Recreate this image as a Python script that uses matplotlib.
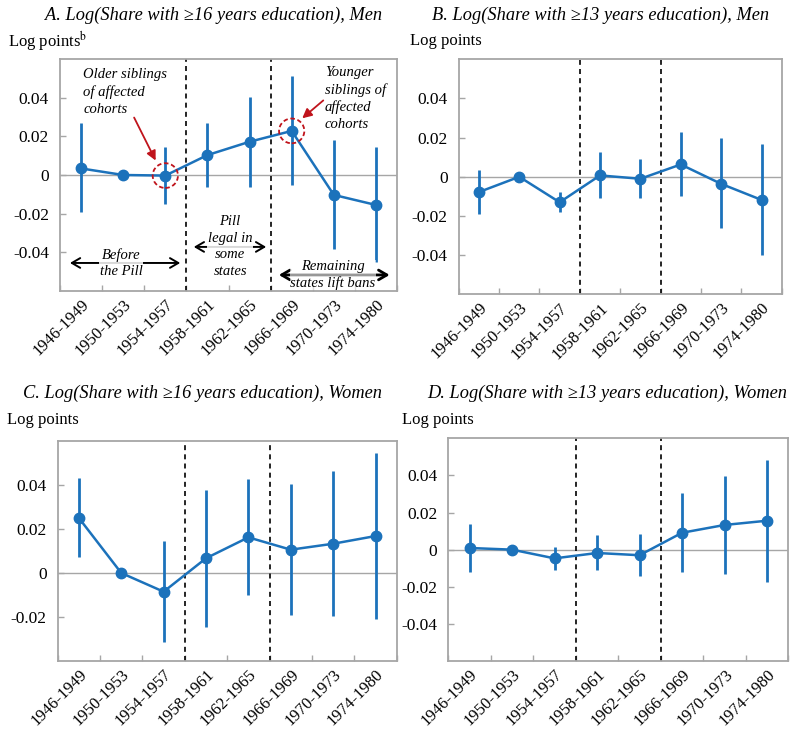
import numpy as np
import matplotlib
matplotlib.use("Agg")
import matplotlib.pyplot as plt
from matplotlib.patches import Ellipse
from matplotlib.ticker import FixedLocator, FixedFormatter

plt.rcParams['font.family'] = ['Liberation Serif', 'DejaVu Serif']
plt.rcParams['mathtext.fontset'] = 'stix'

cohorts = ["1946-1949", "1950-1953", "1954-1957", "1958-1961",
           "1962-1965", "1966-1969", "1970-1973", "1974-1980"]

# Panel A: share with >=16 years education, men
a_est = [0.0034, 0.0, -0.0003, 0.0103, 0.0172, 0.0228, -0.0103, -0.0155]
a_lo = [-0.0193, np.nan, -0.0150, -0.0064, -0.0060, -0.0052, -0.0383, -0.0448]
a_hi = [0.0270, np.nan, 0.0147, 0.0267, 0.0405, 0.0512, 0.0181, 0.0147]

# Panel B: share with >=13 years education, men
b_est = [-0.0078, 0.0, -0.0130, 0.0007, -0.0010, 0.0063, -0.0036, -0.0118]
b_lo = [-0.0190, np.nan, -0.0180, -0.0110, -0.0110, -0.0100, -0.0260, -0.0400]
b_hi = [0.0036, np.nan, -0.0080, 0.0125, 0.0090, 0.0230, 0.0200, 0.0168]

# Panel C: share with >=16 years education, women
c_est = [0.0250, 0.0, -0.0085, 0.0067, 0.0162, 0.0106, 0.0133, 0.0168]
c_lo = [0.0071, np.nan, -0.0312, -0.0244, -0.0100, -0.0189, -0.0195, -0.0211]
c_hi = [0.0430, np.nan, 0.0147, 0.0379, 0.0426, 0.0403, 0.0464, 0.0547]

# Panel D: share with >=13 years education, women
d_est = [0.0009, 0.0, -0.0047, -0.0018, -0.0030, 0.0091, 0.0133, 0.0156]
d_lo = [-0.0122, np.nan, -0.0111, -0.0111, -0.0142, -0.0122, -0.0129, -0.0172]
d_hi = [0.0140, np.nan, 0.0016, 0.0081, 0.0084, 0.0307, 0.0398, 0.0484]

titles = ["A. Log(Share with \u226516 years education), Men",
          "B. Log(Share with \u226513 years education), Men",
          "C. Log(Share with \u226516 years education), Women",
          "D. Log(Share with \u226513 years education), Women"]
ylabels = ["Log points$^{\\mathrm{b}}$", "Log points", "Log points", "Log points"]
ylims = [(-0.06, 0.06), (-0.06, 0.06), (-0.04, 0.06), (-0.06, 0.06)]
yticks_list = [[-0.04, -0.02, 0, 0.02, 0.04], [-0.04, -0.02, 0, 0.02, 0.04],
               [-0.02, 0, 0.02, 0.04], [-0.04, -0.02, 0, 0.02, 0.04]]
ytick_labels = {-0.04: "-0.04", -0.02: "-0.02", 0: "0", 0.02: "0.02", 0.04: "0.04"}

BLUE = "#1c72bb"
GRAY = "#a6a6a6"
RED = "#c0141c"

fig = plt.figure(figsize=(8, 7.39), dpi=100)
W, H = 800, 739

def px_axes(l, t, r, b):
    return fig.add_axes([l / W, 1 - b / H, (r - l) / W, (b - t) / H])

boxes = [(60, 59, 397, 291), (458.7, 59.3, 781.7, 294.3),
         (57.7, 441, 396.7, 661), (448.3, 438.3, 788.3, 661)]
title_pos = [(214, 15), (601, 15), (203, 393), (607, 393)]
ylabel_pos = [(8, 41), (410, 41), (7, 420), (402, 420)]
data = [(a_est, a_lo, a_hi), (b_est, b_lo, b_hi), (c_est, c_lo, c_hi), (d_est, d_lo, d_hi)]

axes = []
for i in range(4):
    ax = px_axes(*boxes[i])
    axes.append(ax)
    est, lo, hi = data[i]
    x = np.arange(len(cohorts)) + 0.5
    ax.set_xlim(0, len(cohorts))
    ax.set_ylim(*ylims[i])
    ax.axhline(0, color=GRAY, lw=1.0, zorder=1)
    for xv in (3, 5):
        ax.axvline(xv, color="black", lw=1.2, ls=(0, (3, 2.5)), zorder=2)
    ax.vlines(x, np.array(lo, float), np.array(hi, float), color=BLUE, lw=2.0, zorder=3)
    ax.plot(x, est, color=BLUE, lw=1.8, marker="o", ms=7.5, zorder=4)
    for s in ax.spines.values():
        s.set_color(GRAY)
        s.set_linewidth(1.3)
    ax.xaxis.set_major_locator(FixedLocator(np.arange(0, len(cohorts) + 1)))
    ax.xaxis.set_major_formatter(FixedFormatter([""] * (len(cohorts) + 1)))
    ax.xaxis.set_minor_locator(FixedLocator(x))
    ax.xaxis.set_minor_formatter(FixedFormatter(cohorts))
    ax.tick_params(axis="x", which="major", direction="in", length=4, color=GRAY, width=1)
    ax.tick_params(axis="x", which="minor", length=0, pad=4, labelsize=12)
    for lab in ax.get_xticklabels(minor=True):
        lab.set_rotation(45)
        lab.set_ha("right")
        lab.set_va("top")
        lab.set_rotation_mode("anchor")
    yt = yticks_list[i]
    ax.yaxis.set_major_locator(FixedLocator(yt))
    ax.yaxis.set_major_formatter(FixedFormatter([ytick_labels[v] for v in yt]))
    ax.tick_params(axis="y", direction="in", length=4, color=GRAY, width=1, labelsize=12.5, pad=8)
    fig.text(title_pos[i][0] / W, 1 - title_pos[i][1] / H, titles[i], ha="center", va="center",
             fontsize=13.2, style="italic")
    fig.text(ylabel_pos[i][0] / W, 1 - ylabel_pos[i][1] / H, ylabels[i], ha="left", va="center",
             fontsize=12)

# Annotations in panel A
ax = axes[0]
ax.text(0.55, 0.0429, "Older siblings\nof affected\ncohorts", ha="left", va="center",
        fontsize=10.5, style="italic", linespacing=1.4)
ax.annotate("", xy=(2.30, 0.0062), xytext=(1.73, 0.031),
            arrowprops=dict(arrowstyle="-|>", color=RED, lw=1.3, mutation_scale=14))
ax.add_patch(Ellipse((2.5, a_est[2]), 0.6, 0.0128, fill=False, edgecolor=RED,
                     ls=(0, (2.5, 1.5)), lw=1.3, zorder=5))
ax.text(6.29, 0.0395, "Younger\nsiblings of\naffected\ncohorts", ha="left", va="center",
        fontsize=10.5, style="italic", linespacing=1.35)
ax.annotate("", xy=(5.70, 0.0284), xytext=(6.30, 0.0395),
            arrowprops=dict(arrowstyle="-|>", color=RED, lw=1.3, mutation_scale=14))
ax.add_patch(Ellipse((5.5, a_est[5]), 0.6, 0.0128, fill=False, edgecolor=RED,
                     ls=(0, (2.5, 1.5)), lw=1.3, zorder=5))

arrow_kw = dict(arrowstyle="<->,head_length=0.6,head_width=0.35", color="black", lw=1.4)
ax.annotate("", xy=(0.17, -0.0455), xytext=(2.92, -0.0455), arrowprops=arrow_kw)
ax.text(1.45, -0.0457, "Before\nthe Pill", ha="center", va="center", fontsize=10.5,
        style="italic", linespacing=1.35,
        bbox=dict(boxstyle="square,pad=0.05", fc="white", ec="none", alpha=0.85))
ax.annotate("", xy=(3.11, -0.0372), xytext=(4.96, -0.0372), arrowprops=arrow_kw)
ax.text(4.04, -0.037, "Pill\nlegal in\nsome\nstates", ha="center", va="center", fontsize=10.5,
        style="italic", linespacing=1.35,
        bbox=dict(boxstyle="square,pad=0.05", fc="white", ec="none", alpha=0.85))
arrow_kw2 = dict(arrowstyle="<->,head_length=0.6,head_width=0.35", color="black", lw=2.0)
ax.annotate("", xy=(5.13, -0.0517), xytext=(7.89, -0.0517), arrowprops=arrow_kw2)
ax.text(6.48, -0.0517, "Remaining\nstates lift bans", ha="center", va="center", fontsize=10.5,
        style="italic", linespacing=1.25,
        bbox=dict(boxstyle="square,pad=0.0", fc="white", ec="none", alpha=0.6))

fig.savefig("out.png", dpi=100)
